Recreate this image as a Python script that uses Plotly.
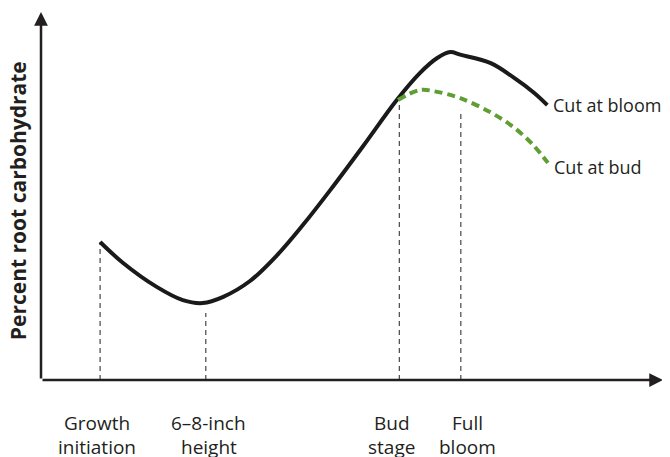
import plotly.graph_objects as go

# ---- data (arbitrary units: x = season progress 0-100, y = relative carbohydrate 0-100)
stage_line1 = ["Growth", "6–8-inch", "Bud", "Full"]
stage_line2 = ["initiation", "height", "stage", "bloom"]
stage_x = [9.5, 26.5, 57.6, 67.5]
stage_label_x = [9.0, 27.0, 56.4, 68.6]
stage_line_top = [37.5, 18.2, 76.1, 73.4]

bloom_x = [9.5, 13.2, 18.6, 22.8, 26.0, 29.3, 33.6, 38.0, 42.1, 46.5, 51.8, 57.2, 60.9, 63.7, 65.8, 67.4, 72.3, 75.9, 79.3, 81.4]
bloom_y = [37.5, 31.8, 25.3, 21.7, 20.9, 22.6, 26.9, 34.0, 42.1, 51.6, 63.6, 76.1, 83.4, 87.5, 89.1, 88.4, 86.1, 82.3, 78.0, 74.7]

bud_x = [57.4, 60.9, 63.7, 67.4, 72.2, 75.9, 79.1, 81.5]
bud_y = [76.1, 78.8, 78.3, 76.6, 72.8, 68.8, 63.9, 59.0]

series_names = ["Cut at bloom", "Cut at bud"]
y_title = "Percent root carbohydrate"

TEXT = "#231f20"
GREEN = "#5f9e35"
FONT = "Open Sans"

fig = go.Figure()

# dashed stage guide lines
for sx, top in zip(stage_x, stage_line_top):
    fig.add_trace(go.Scatter(x=[sx, sx], y=[0, top], mode="lines",
                             line=dict(color="#231f20", width=1, dash="5px,4px"),
                             hoverinfo="skip", showlegend=False))

fig.add_trace(go.Scatter(x=bloom_x, y=bloom_y, mode="lines", name=series_names[0],
                         line=dict(color="#1a1a1a", width=4, shape="spline", smoothing=1.0),
                         showlegend=False))
fig.add_trace(go.Scatter(x=bud_x, y=bud_y, mode="lines", name=series_names[1],
                         line=dict(color=GREEN, width=4, shape="spline", smoothing=1.0, dash="8px,5px"),
                         showlegend=False))

annotations = []
# axes with arrowheads
annotations.append(dict(x=1, y=0, ax=0, ay=0, xref="x domain", yref="y domain",
                        axref="x domain", ayref="y domain",
                        text="", showarrow=True, arrowhead=2, arrowsize=1.1, arrowwidth=2.5, arrowcolor="#231f20"))
annotations.append(dict(x=0, y=1, ax=0, ay=0, xref="x domain", yref="y domain",
                        axref="x domain", ayref="y domain",
                        text="", showarrow=True, arrowhead=2, arrowsize=1.1, arrowwidth=2.5, arrowcolor="#231f20"))

for lx, l1, l2 in zip(stage_label_x, stage_line1, stage_line2):
    annotations.append(dict(x=lx, y=0, xref="x", yref="paper", text=l1, showarrow=False,
                            yanchor="middle", xanchor="center", yshift=-43,
                            font=dict(family=FONT, size=19, color=TEXT)))
    annotations.append(dict(x=lx, y=0, xref="x", yref="paper", text=l2, showarrow=False,
                            yanchor="middle", xanchor="center", yshift=-67,
                            font=dict(family=FONT, size=19, color=TEXT)))

annotations.append(dict(x=bloom_x[-1], y=bloom_y[-1], xref="x", yref="y", text=series_names[0],
                        showarrow=False, xanchor="left", yanchor="middle", xshift=4, yshift=0,
                        font=dict(family=FONT, size=18, color=TEXT)))
annotations.append(dict(x=bud_x[-1], y=bud_y[-1], xref="x", yref="y", text=series_names[1],
                        showarrow=False, xanchor="left", yanchor="middle", xshift=4, yshift=-4,
                        font=dict(family=FONT, size=18, color=TEXT)))

annotations.append(dict(x=0, y=0.486, xref="paper", yref="paper", text="<b>" + y_title + "</b>",
                        showarrow=False, textangle=-90, xanchor="center", yanchor="middle", xshift=-23,
                        font=dict(family=FONT, size=21, color=TEXT)))

# page body has an 8px margin, so the figure is offset by 8px
fig.update_layout(
    width=662, height=449,
    margin=dict(l=33, r=7, t=4, b=77),
    paper_bgcolor="white", plot_bgcolor="white",
    xaxis=dict(range=[0, 100], showgrid=False, zeroline=False, showticklabels=False, showline=False),
    yaxis=dict(range=[0, 100], showgrid=False, zeroline=False, showticklabels=False, showline=False),
    annotations=annotations,
    showlegend=False,
)

fig.write_html("out.html")
